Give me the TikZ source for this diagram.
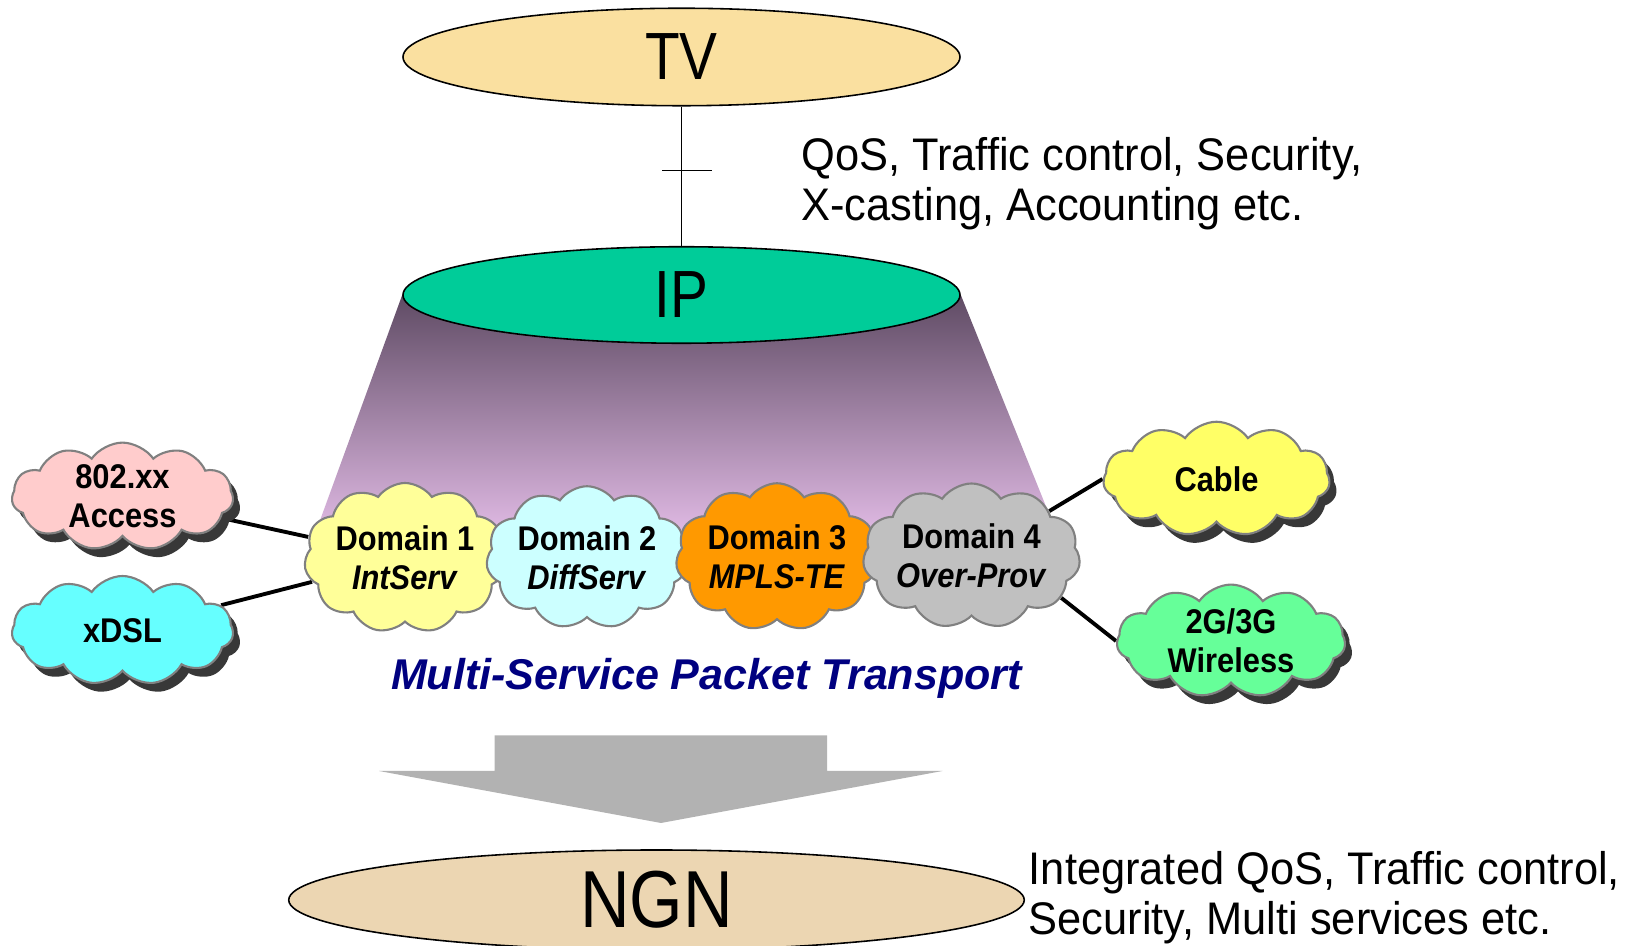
\documentclass[tikz,border=0pt]{standalone}
\usepackage{fontspec}
\setmainfont{Liberation Sans}
\newfontfamily\NarrowFont[FakeStretch=0.85]{Liberation Sans}
\newfontfamily\NoteFont[FakeStretch=0.95]{Liberation Sans}
\newfontfamily\CloudFont[FakeStretch=0.9]{Liberation Sans}
\usepackage{tikz}
\usetikzlibrary{shapes.geometric,shapes.symbols}
\usetikzlibrary{shadows,backgrounds}

\definecolor{TVFill}{RGB}{250,224,160}
\definecolor{IPFill}{RGB}{0,204,153}
\definecolor{NGNFill}{RGB}{236,214,178}
\definecolor{DomOne}{RGB}{255,255,153}
\definecolor{DomTwo}{RGB}{204,255,255}
\definecolor{DomThree}{RGB}{255,153,0}
\definecolor{DomFour}{RGB}{192,192,192}
\definecolor{AccFill}{RGB}{255,204,204}
\definecolor{XDSLFill}{RGB}{102,255,255}
\definecolor{CableFill}{RGB}{255,255,102}
\definecolor{WlessFill}{RGB}{102,255,153}
\definecolor{CloudEdge}{RGB}{128,128,128}
\definecolor{TrapTop}{RGB}{95,75,100}
\definecolor{TrapBot}{RGB}{222,184,226}
\definecolor{ArrowGray}{RGB}{178,178,178}
\definecolor{Navy}{RGB}{0,0,128}

\tikzset{
	netlayer/.style={ellipse, draw=black, line width=0.9pt, inner sep=0pt, font=\NarrowFont\fontsize{38}{40}\selectfont},
	domaincloud/.style={cloud, cloud puffs=11, cloud puff arc=110, cloud ignores aspect, draw=CloudEdge, line width=1.2pt, inner sep=0pt, align=center, font=\CloudFont\bfseries\fontsize{19.5}{22}\selectfont},
	accesscloud/.style={domaincloud, drop shadow={shadow xshift=4pt, shadow yshift=-5pt, fill=black!78, opacity=1}},
	linkline/.style={line width=2.2pt},
	notetext/.style={anchor=west, align=left, inner sep=0pt, font=\NoteFont\fontsize{26}{28.5}\selectfont},
}

\begin{document}
\begin{tikzpicture}

	\useasboundingbox (0,0) rectangle (32.58,18.91);

	%Layers
	\node[netlayer, fill=TVFill, minimum width=11.14cm, minimum height=1.95cm] (TV) at (13.63,17.77) {TV};
	\node[netlayer, fill=IPFill, minimum width=11.14cm, minimum height=1.93cm] (IP) at (13.63,13.01) {IP};
	\node[netlayer, fill=NGNFill, minimum width=14.71cm, minimum height=2.00cm, font=\NarrowFont\fontsize{46}{48}\selectfont] (NGN) at (13.13,0.91) {NGN};

	%Funnel under IP
	\begin{pgfonlayer}{background}
		\shade[top color=TrapTop, bottom color=TrapBot] (IP.west) -- (IP.east) -- (21.11,8.31) -- (6.33,8.31) -- cycle;
	\end{pgfonlayer}

	%TV -- IP
	\draw[line width=0.8pt] (TV) -- coordinate[pos=0.46] (Tick) (IP);
	\draw[line width=0.8pt] ([xshift=-0.39cm]Tick) -- ([xshift=0.60cm]Tick);

	\node[notetext] (QosNote) at (16.02,15.24) {QoS, Traffic control, Security,\\X-casting, Accounting etc.};

	%%%%%%%%%%%%%%%%%%%%%%%%%%%%%%%%%%%%%%%%%%%%%%%%%%%%

	%Domains
	\node[domaincloud, fill=DomOne, minimum width=3.95cm, minimum height=3.00cm] (Dom1) at (8.10,7.75) {Domain 1\\\textit{IntServ}};
	\node[domaincloud, fill=DomTwo, minimum width=3.95cm, minimum height=2.85cm] (Dom2) at (11.74,7.76) {Domain 2\\\textit{DiffServ}};
	\node[domaincloud, fill=DomThree, minimum width=4.05cm, minimum height=2.95cm] (Dom3) at (15.54,7.77) {Domain 3\\\textit{MPLS-TE}};
	\node[domaincloud, fill=DomFour, minimum width=4.15cm, minimum height=2.90cm] (Dom4) at (19.43,7.79) {Domain 4\\\textit{Over-Prov}};

	%Access networks
	\node[accesscloud, fill=AccFill, minimum width=4.43cm, minimum height=2.15cm] (Acc) at (2.45,8.98) {802.xx\\Access};
	\node[accesscloud, fill=XDSLFill, minimum width=4.43cm, minimum height=2.18cm] (XDSL) at (2.45,6.30) {xDSL};
	\node[accesscloud, fill=CableFill, minimum width=4.53cm, minimum height=2.29cm] (Cable) at (24.33,9.33) {Cable};
	\node[accesscloud, fill=WlessFill, minimum width=4.57cm, minimum height=2.18cm] (Wless) at (24.62,6.09) {2G/3G\\Wireless};

	%Links
	\begin{pgfonlayer}{background}
		\draw[linkline] (Acc) -- (Dom1);
		\draw[linkline] (XDSL) -- (Dom1);
		\draw[linkline] (Cable.west) -- (Dom4.30);
		\draw[linkline] (Wless.west) -- (Dom4.-25);
	\end{pgfonlayer}

	\node[font=\bfseries\itshape\fontsize{24.5}{26}\selectfont, text=Navy] (MSPT) at (14.13,5.34) {Multi-Service Packet Transport};

	%Arrow to NGN
	\fill[ArrowGray] (9.89,4.20) -- (16.54,4.20) -- (16.54,3.49) -- (18.85,3.49) -- (13.22,2.45) -- (7.58,3.49) -- (9.89,3.49) -- cycle;

	\node[notetext] (NGNNote) at (20.57,0.95) {Integrated QoS, Traffic control,\\Security, Multi services etc.};

\end{tikzpicture}
\end{document}
